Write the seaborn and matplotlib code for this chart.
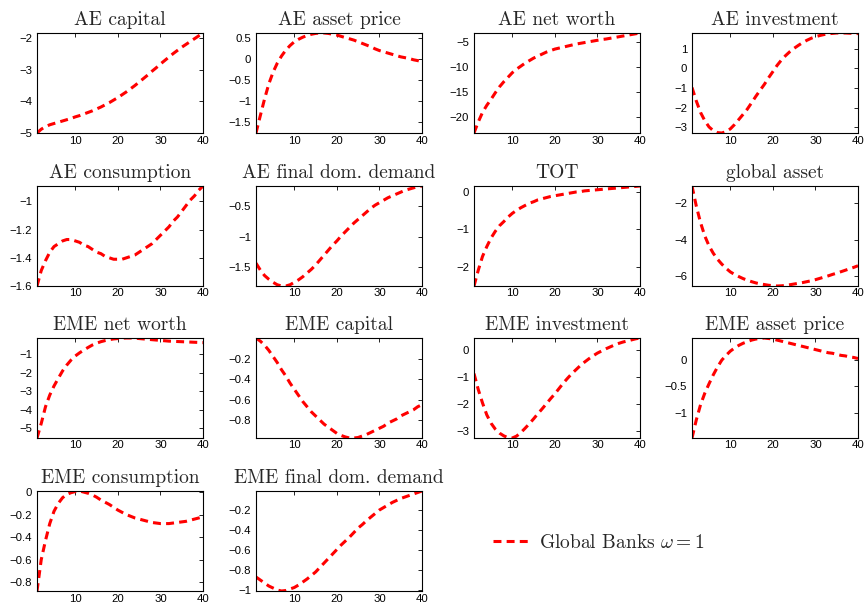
import numpy as np
import pandas as pd
import matplotlib
matplotlib.use("Agg")
import matplotlib.pyplot as plt
from matplotlib.ticker import FuncFormatter
import seaborn as sns

# Impulse responses over 40 quarters
periods = list(range(1, 41))

ae_capital = [-5.00, -4.88, -4.80, -4.74, -4.70, -4.66, -4.62, -4.58, -4.54, -4.49,
              -4.45, -4.40, -4.35, -4.30, -4.24, -4.18, -4.11, -4.04, -3.96, -3.88,
              -3.79, -3.70, -3.60, -3.50, -3.39, -3.28, -3.17, -3.05, -2.94, -2.82,
              -2.71, -2.60, -2.49, -2.39, -2.29, -2.20, -2.11, -2.02, -1.93, -1.84]
ae_asset_price = [-1.77, -1.36, -0.96, -0.60, -0.32, -0.10, 0.07, 0.21, 0.32, 0.41,
                  0.47, 0.52, 0.56, 0.59, 0.61, 0.62, 0.62, 0.61, 0.59, 0.57,
                  0.54, 0.51, 0.48, 0.45, 0.41, 0.37, 0.33, 0.29, 0.24, 0.20,
                  0.17, 0.14, 0.11, 0.08, 0.05, 0.03, 0.01, -0.02, -0.04, -0.07]
ae_net_worth = [-23.2, -21.0, -19.1, -17.7, -16.5, -15.2, -14.0, -13.0, -12.1, -11.2,
                -10.5, -9.9, -9.3, -8.8, -8.3, -7.9, -7.5, -7.1, -6.8, -6.5,
                -6.3, -6.1, -5.9, -5.7, -5.5, -5.35, -5.2, -5.05, -4.9, -4.75,
                -4.6, -4.5, -4.35, -4.2, -4.05, -3.9, -3.75, -3.6, -3.45, -3.3]
ae_investment = [-0.97, -1.65, -2.24, -2.66, -2.98, -3.17, -3.27, -3.29, -3.22, -3.08,
                 -2.86, -2.60, -2.34, -2.07, -1.75, -1.42, -1.11, -0.81, -0.47, -0.16,
                 0.16, 0.43, 0.66, 0.86, 1.03, 1.18, 1.32, 1.44, 1.54, 1.62,
                 1.68, 1.73, 1.77, 1.79, 1.81, 1.81, 1.81, 1.80, 1.79, 1.78]
ae_consumption = [-1.60, -1.49, -1.42, -1.36, -1.32, -1.30, -1.28, -1.27, -1.27, -1.28,
                  -1.29, -1.31, -1.32, -1.34, -1.36, -1.37, -1.39, -1.40, -1.41, -1.41,
                  -1.41, -1.40, -1.39, -1.38, -1.36, -1.34, -1.32, -1.30, -1.27, -1.24,
                  -1.21, -1.18, -1.14, -1.11, -1.07, -1.03, -0.99, -0.96, -0.92, -0.89]
ae_final_demand = [-1.43, -1.54, -1.63, -1.69, -1.74, -1.78, -1.80, -1.80, -1.78, -1.74,
                   -1.70, -1.65, -1.59, -1.53, -1.46, -1.38, -1.30, -1.22, -1.14, -1.07,
                   -0.99, -0.92, -0.85, -0.78, -0.72, -0.66, -0.60, -0.54, -0.49, -0.45,
                   -0.41, -0.37, -0.34, -0.31, -0.28, -0.25, -0.23, -0.21, -0.19, -0.18]
tot = [-2.52, -2.10, -1.73, -1.47, -1.24, -1.06, -0.91, -0.80, -0.68, -0.58,
       -0.50, -0.43, -0.37, -0.31, -0.27, -0.22, -0.19, -0.16, -0.13, -0.11,
       -0.09, -0.07, -0.05, -0.03, -0.01, 0.00, 0.02, 0.03, 0.04, 0.05,
       0.06, 0.07, 0.08, 0.09, 0.10, 0.11, 0.12, 0.13, 0.14, 0.15]
global_asset = [-1.04, -2.14, -3.06, -3.80, -4.35, -4.76, -5.09, -5.36, -5.59, -5.79,
                -5.93, -6.05, -6.16, -6.25, -6.33, -6.40, -6.45, -6.49, -6.53, -6.55,
                -6.57, -6.56, -6.54, -6.50, -6.46, -6.42, -6.38, -6.33, -6.28, -6.22,
                -6.15, -6.08, -6.01, -5.93, -5.86, -5.78, -5.70, -5.62, -5.54, -5.45]
eme_net_worth = [-5.52, -4.73, -3.83, -3.20, -2.71, -2.30, -1.90, -1.58, -1.31, -1.09,
                 -0.92, -0.77, -0.63, -0.50, -0.40, -0.32, -0.26, -0.21, -0.17, -0.15,
                 -0.13, -0.12, -0.12, -0.13, -0.15, -0.17, -0.19, -0.21, -0.23, -0.25,
                 -0.27, -0.29, -0.30, -0.31, -0.32, -0.33, -0.34, -0.35, -0.36, -0.37]
eme_capital = [0.00, -0.03, -0.07, -0.12, -0.18, -0.24, -0.31, -0.37, -0.44, -0.50,
               -0.56, -0.62, -0.67, -0.72, -0.76, -0.80, -0.84, -0.87, -0.90, -0.93,
               -0.95, -0.965, -0.975, -0.975, -0.97, -0.955, -0.94, -0.92, -0.90, -0.88,
               -0.86, -0.83, -0.81, -0.79, -0.76, -0.74, -0.72, -0.70, -0.67, -0.65]
eme_investment = [-0.87, -1.46, -1.96, -2.40, -2.71, -2.93, -3.08, -3.18, -3.25, -3.26,
                  -3.19, -3.06, -2.90, -2.73, -2.55, -2.36, -2.18, -1.99, -1.80, -1.62,
                  -1.42, -1.22, -1.04, -0.87, -0.72, -0.57, -0.44, -0.32, -0.21, -0.11,
                  -0.03, 0.05, 0.12, 0.19, 0.25, 0.30, 0.34, 0.38, 0.42, 0.45]
eme_asset_price = [-1.48, -1.14, -0.85, -0.63, -0.45, -0.28, -0.13, 0.00, 0.09, 0.17,
                   0.23, 0.28, 0.32, 0.35, 0.38, 0.40, 0.41, 0.42, 0.41, 0.40,
                   0.38, 0.36, 0.34, 0.32, 0.30, 0.28, 0.26, 0.24, 0.22, 0.20,
                   0.18, 0.16, 0.14, 0.13, 0.11, 0.09, 0.08, 0.06, 0.05, 0.03]
eme_consumption = [-0.88, -0.60, -0.43, -0.28, -0.17, -0.10, -0.05, -0.02, -0.005, 0.005,
                   0.01, 0.00, -0.01, -0.025, -0.045, -0.07, -0.09, -0.11, -0.135, -0.16,
                   -0.18, -0.20, -0.215, -0.23, -0.24, -0.25, -0.26, -0.27, -0.275, -0.28,
                   -0.28, -0.28, -0.275, -0.27, -0.265, -0.26, -0.25, -0.24, -0.23, -0.22]
eme_final_demand = [-0.87, -0.90, -0.93, -0.96, -0.98, -1.00, -1.01, -1.005, -0.99, -0.975,
                    -0.95, -0.92, -0.89, -0.855, -0.82, -0.775, -0.73, -0.685, -0.64, -0.595,
                    -0.55, -0.51, -0.47, -0.425, -0.38, -0.345, -0.305, -0.27, -0.235, -0.20,
                    -0.175, -0.15, -0.125, -0.105, -0.085, -0.07, -0.055, -0.04, -0.025, -0.01]

titles = ["AE capital", "AE asset price", "AE net worth", "AE investment",
          "AE consumption", "AE final dom. demand", "TOT", "global asset",
          "EME net worth", "EME capital", "EME investment", "EME asset price",
          "EME consumption", "EME final dom. demand"]
series = [ae_capital, ae_asset_price, ae_net_worth, ae_investment,
          ae_consumption, ae_final_demand, tot, global_asset,
          eme_net_worth, eme_capital, eme_investment, eme_asset_price,
          eme_consumption, eme_final_demand]
y_ticks = [[-5, -4, -3, -2], [-1.5, -1, -0.5, 0, 0.5], [-20, -15, -10, -5], [-3, -2, -1, 0, 1],
           [-1.6, -1.4, -1.2, -1], [-1.5, -1, -0.5], [-2, -1, 0], [-6, -4, -2],
           [-5, -4, -3, -2, -1], [-0.8, -0.6, -0.4, -0.2], [-3, -2, -1, 0], [-1, -0.5, 0],
           [-0.8, -0.6, -0.4, -0.2, 0], [-1, -0.8, -0.6, -0.4, -0.2]]
x_ticks = [10, 20, 30, 40]
legend_label = r"Global Banks $\omega = 1$"

sns.set_style("white")
plt.rcParams["font.family"] = ["Liberation Sans", "DejaVu Sans"]
plt.rcParams["mathtext.fontset"] = "cm"
plt.rcParams["axes.unicode_minus"] = True

W, H = 867, 607
fig = plt.figure(figsize=(W / 100, H / 100), dpi=100)

col_left = [37, 256, 474, 692]
row_top = [33, 186, 338, 491]
ax_w, ax_h = 166, 100


def fmt(v, _pos):
    s = f"{v:g}"
    return s.replace("-", "\u2212")


line_style = (0, (2.6, 1.7))
handle = None
for i, (title, vals, yt) in enumerate(zip(titles, series, y_ticks)):
    r, c = divmod(i, 4)
    ax = fig.add_axes([col_left[c] / W, 1 - (row_top[r] + ax_h) / H, ax_w / W, ax_h / H])
    df = pd.DataFrame({"t": periods, "v": vals})
    sns.lineplot(data=df, x="t", y="v", ax=ax, color="red", linewidth=2.2,
                 linestyle=line_style, estimator=None, label=legend_label if i == 0 else None)
    ax.set_xlim(periods[0], periods[-1])
    ax.set_ylim(min(vals), max(vals))
    ax.set_xticks(x_ticks)
    ax.set_yticks(yt)
    ax.yaxis.set_major_formatter(FuncFormatter(fmt))
    ax.set_xlabel("")
    ax.set_ylabel("")
    ax.tick_params(direction="in", top=True, right=True, length=3, width=0.6,
                   labelsize=8.2, colors="black")
    ax.tick_params(axis="x", pad=1.8)
    ax.tick_params(axis="y", pad=3.5)
    for sp in ax.spines.values():
        sp.set_color("black")
        sp.set_linewidth(0.8)
    ax.set_title(title, fontfamily="cmr10", fontsize=14, pad=6)
    if i == 0:
        handle = ax.get_legend_handles_labels()
        ax.get_legend().remove()

fig.legend(handle[0], handle[1], loc="center left", bbox_to_anchor=(475 / W, 1 - 543 / H),
           frameon=False, prop={"family": "cmr10", "size": 14}, handlelength=1.85,
           handletextpad=0.55)

fig.savefig("out.png", dpi=100)
